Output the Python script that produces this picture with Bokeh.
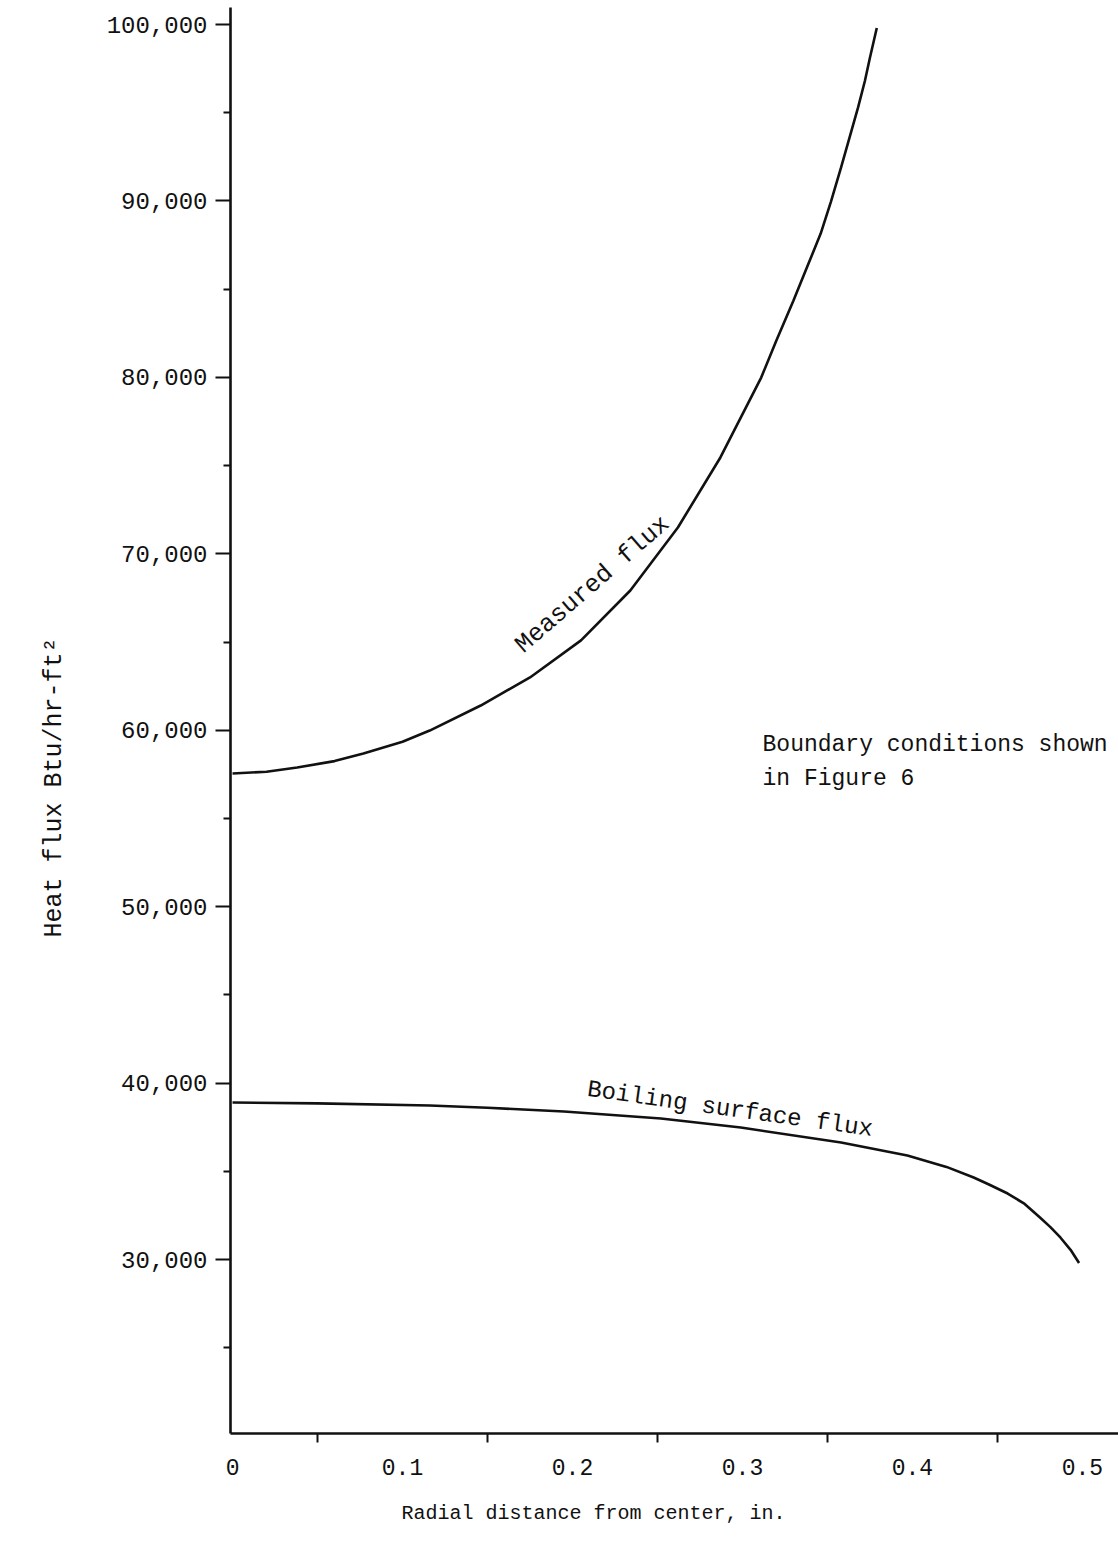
from bokeh.plotting import figure
from bokeh.models import Range1d, FixedTicker, NumeralTickFormatter, Title
from bokeh.embed import file_html
from bokeh.resources import INLINE
from bokeh.core.properties import value
import math

# Measured flux (radial distance in., heat flux Btu/hr-ft^2)
measured_x = [0.0, 0.02, 0.038, 0.06, 0.077, 0.10, 0.116, 0.146, 0.175, 0.205, 0.234,
              0.262, 0.287, 0.311, 0.320, 0.330, 0.338, 0.346, 0.352, 0.358, 0.363,
              0.368, 0.372, 0.375, 0.379]
measured_y = [57550, 57650, 57890, 58250, 58680, 59350, 59980, 61400, 62990, 65090, 67920,
              71490, 75460, 79990, 82100, 84360, 86250, 88150, 89950, 91900, 93600,
              95300, 96800, 98130, 99800]

# Boiling surface flux
boiling_x = [0.0, 0.05, 0.116, 0.15, 0.195, 0.252, 0.299, 0.358, 0.397, 0.42, 0.436,
             0.445, 0.456, 0.466, 0.475, 0.481, 0.487, 0.493, 0.498]
boiling_y = [38900, 38850, 38730, 38600, 38390, 37990, 37480, 36630, 35900, 35250, 34650,
             34250, 33740, 33150, 32380, 31850, 31250, 30550, 29800]

x_ticks = [0.0, 0.1, 0.2, 0.3, 0.4, 0.5]
x_tick_labels = ["0", "0.1", "0.2", "0.3", "0.4", "0.5"]
x_minor = [0.05, 0.15, 0.25, 0.35, 0.45]
y_ticks = [30000, 40000, 50000, 60000, 70000, 80000, 90000, 100000]
y_minor = [25000, 35000, 45000, 55000, 65000, 75000, 85000, 95000]

FONT = "Liberation Mono"
INK = "#111111"

p = figure(width=1118, height=1549, output_backend="svg", toolbar_location=None,
           x_range=Range1d(-0.0012, 0.5212), y_range=Range1d(20138, 100964),
           min_border_left=230, min_border_right=0, min_border_top=7,
           min_border_bottom=116)
p.outline_line_color = None
p.grid.visible = False
p.background_fill_color = "white"
p.border_fill_color = "white"

p.line(measured_x, measured_y, line_color=INK, line_width=2.6)
p.line(boiling_x, boiling_y, line_color=INK, line_width=2.6)

# x axis
xa = p.xaxis[0]
xa.ticker = FixedTicker(ticks=x_ticks, minor_ticks=x_minor)
xa.major_label_overrides = {t: l for t, l in zip(x_ticks, x_tick_labels)}
xa.major_tick_out = 0
xa.major_tick_in = 0
xa.minor_tick_out = 9
xa.minor_tick_in = 0
xa.minor_tick_line_width = 2
xa.minor_tick_line_color = INK
xa.axis_line_width = 2.6
xa.axis_line_color = INK
xa.major_label_standoff = 16
xa.major_label_text_font = FONT
xa.major_label_text_font_size = "23px"
xa.major_label_text_color = INK

# y axis
ya = p.yaxis[0]
ya.ticker = FixedTicker(ticks=y_ticks, minor_ticks=y_minor)
ya.formatter = NumeralTickFormatter(format="0,0")
ya.major_tick_out = 15
ya.major_tick_in = 0
ya.minor_tick_out = 7
ya.minor_tick_in = 0
ya.major_tick_line_width = 2
ya.minor_tick_line_width = 2
ya.major_tick_line_color = INK
ya.minor_tick_line_color = INK
ya.axis_line_width = 2.6
ya.axis_line_color = INK
ya.major_label_standoff = 8
ya.major_label_text_font = FONT
ya.major_label_text_font_size = "24px"
ya.major_label_text_color = INK

# axis titles (placed off-centre as in the original)
p.add_layout(Title(text="Radial distance from center, in.", align="left", offset=171,
                   standoff=44, text_font=FONT, text_font_size="20px",
                   text_font_style="normal", text_color=INK), "below")
p.add_layout(Title(text="Heat flux Btu/hr-ft²", align="left", offset=496,
                   standoff=70, text_font=FONT, text_font_size="25px",
                   text_font_style="normal", text_color=INK), "left")

# curve labels
p.text(x=[0.1687], y=[64630], text=["Measured flux"], angle=math.radians(41),
       text_font=value(FONT), text_font_size="25px", text_color=INK,
       text_align="left", text_baseline="alphabetic")
p.text(x=[0.2088], y=[39640], text=["Boiling surface flux"], angle=math.radians(-8.0),
       text_font=value(FONT), text_font_size="24px", text_color=INK,
       text_align="left", text_baseline="alphabetic")
p.text(x=[0.3118, 0.3118], y=[59134, 57263],
       text=["Boundary conditions shown", "in Figure 6"],
       text_font=value(FONT), text_font_size="23px", text_color=INK,
       text_align="left", text_baseline="alphabetic")

open("out.html", "w").write(file_html(p, INLINE))
